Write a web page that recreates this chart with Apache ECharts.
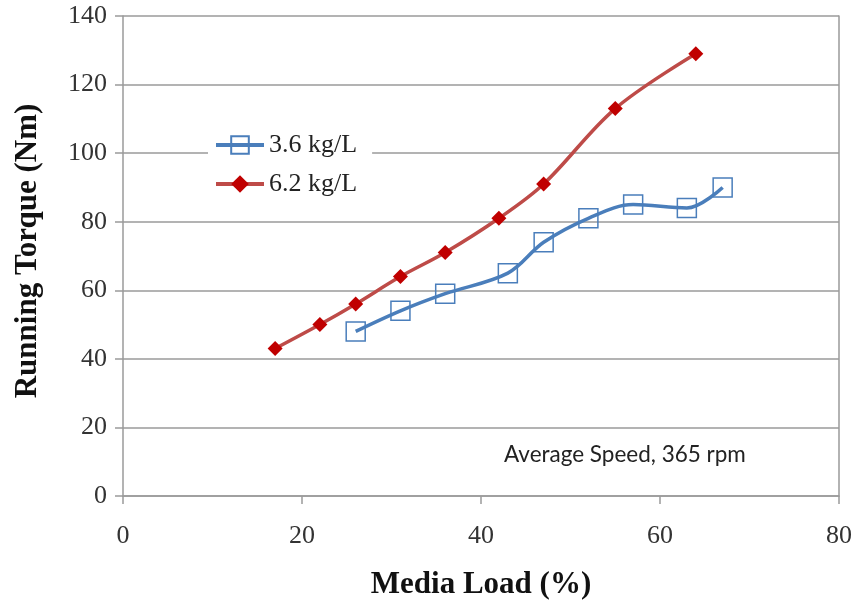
<!DOCTYPE html>
<html><head><meta charset="utf-8">
<script src="https://cdn.jsdelivr.net/npm/echarts@6/dist/echarts.min.js"></script>
<style>html,body{margin:0;padding:0;background:#fff}#c{width:855px;height:605px}</style>
</head><body><div id="c"></div>
<script>
var xTicks = [0, 20, 40, 60, 80];
var yTicks = [0, 20, 40, 60, 80, 100, 120, 140];
var seriesNames = ['3.6 kg/L', '6.2 kg/L'];
var load36 = [26, 31, 36, 43, 47, 52, 57, 63, 67];
var torque36 = [48, 54, 59, 65, 74, 81, 85, 84, 90];
var load62 = [17, 22, 26, 31, 36, 42, 47, 55, 64];
var torque62 = [43, 50, 56, 64, 71, 81, 91, 113, 129];
var note = 'Average Speed, 365 rpm';

function pairs(xs, ys){ return xs.map(function(x,i){return [x, ys[i]];}); }

var chart = echarts.init(document.getElementById('c'), null, {renderer:'canvas'});
var serif = 'Liberation Serif';
chart.setOption({
  animation:false,
  backgroundColor:'#fff',
  grid:{left:123, right:15, top:16, bottom:109},
  legend:{
    left:208, top:126, orient:'vertical', itemGap:13,
    itemWidth:48, itemHeight:22,
    backgroundColor:'#fff', padding:[6,15,6,6],
    lineStyle:{width:4},
    textStyle:{fontFamily:serif, fontSize:26, color:'#222'},
    data:seriesNames
  },
  xAxis:{
    type:'value', min:xTicks[0], max:xTicks[xTicks.length-1], interval:20,
    name:'Media Load (%)', nameLocation:'middle', nameGap:73,
    nameTextStyle:{fontFamily:serif, fontSize:31, fontWeight:'bold', color:'#111'},
    axisLine:{show:true, lineStyle:{color:'#9a9a9a', width:1.5}},
    axisTick:{show:true, inside:false, length:8, lineStyle:{color:'#9a9a9a', width:1.5}},
    axisLabel:{fontFamily:serif, fontSize:26, color:'#333', margin:27},
    splitLine:{show:false}
  },
  yAxis:[{
    type:'value', min:yTicks[0], max:yTicks[yTicks.length-1], interval:20,
    name:'Running Torque (Nm)', nameLocation:'middle', nameGap:80,
    nameTextStyle:{fontFamily:serif, fontSize:31, fontWeight:'bold', color:'#111', padding:[0,0,0,10]},
    axisLine:{show:true, lineStyle:{color:'#9a9a9a', width:1.5}},
    axisTick:{show:true, inside:false, length:8, lineStyle:{color:'#9a9a9a', width:1.5}},
    axisLabel:{fontFamily:serif, fontSize:26, color:'#333', margin:16},
    splitLine:{show:true, lineStyle:{color:'#9a9a9a', width:1.5}}
  },{
    type:'value', min:yTicks[0], max:yTicks[yTicks.length-1], interval:20, position:'right',
    axisLine:{show:true, lineStyle:{color:'#9a9a9a', width:1.5}},
    axisTick:{show:false}, axisLabel:{show:false}, splitLine:{show:false}
  }],
  graphic:[{
    type:'text', left:504, top:443,
    style:{text:note, fontFamily:'Lato', fontSize:22.5, fill:'#222'}
  }],
  series:[{
    name:seriesNames[0], type:'line', smooth:0.35,
    data:pairs(load36, torque36),
    symbol:'rect', symbolSize:19,
    lineStyle:{color:'#4a7ebb', width:3.5},
    itemStyle:{color:'rgba(255,255,255,0)', borderColor:'#4a7ebb', borderWidth:1.5},
    z:3
  },{
    name:seriesNames[1], type:'line', smooth:0.35,
    data:pairs(load62, torque62),
    symbol:'diamond', symbolSize:15,
    lineStyle:{color:'#be4b48', width:3.5},
    itemStyle:{color:'#c00000', borderColor:'#c00000', borderWidth:0},
    z:4
  }]
});
</script></body></html>
